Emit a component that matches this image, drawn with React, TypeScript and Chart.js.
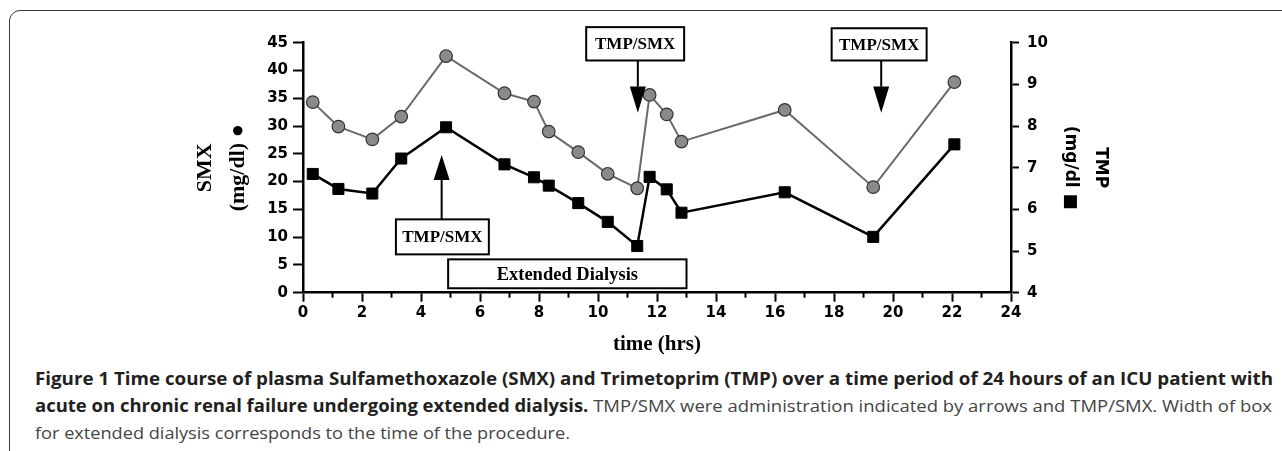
import React, { useEffect, useLayoutEffect, useRef } from "react";
import { Chart, registerables } from "chart.js";

Chart.register(...registerables);

// ---------- data ----------
const timeHours = [0.33, 1.2, 2.35, 3.33, 4.85, 6.83, 7.83, 8.33, 9.33, 10.33, 11.33, 11.75, 12.33, 12.83, 16.33, 19.33, 22.08];
const smxValues = [34.3, 29.9, 27.6, 31.7, 42.6, 35.9, 34.4, 29.0, 25.3, 21.4, 18.8, 35.6, 32.1, 27.2, 32.9, 19.0, 37.9];
const tmpValues = [6.85, 6.49, 6.38, 7.22, 7.97, 7.08, 6.77, 6.57, 6.15, 5.7, 5.12, 6.78, 6.48, 5.92, 6.41, 5.34, 7.56];

const doseTimes = [4.7, 11.35, 19.6];
const doseLabel = "TMP/SMX";
const dialysisStart = 4.92;
const dialysisEnd = 13.0;
const dialysisLabel = "Extended Dialysis";

const xTitle = "time (hrs)";
const leftTitle = ["SMX", "(mg/dl) \u25CF"];
const rightTitle = ["TMP", "(mg/dl \u25A0"];

const captionBold1 =
  "Figure 1 Time course of plasma Sulfamethoxazole (SMX) and Trimetoprim (TMP) over a time period of 24 hours of an ICU patient with";
const captionBold2 = "acute on chronic renal failure undergoing extended dialysis.";
const captionNormal2 = " TMP/SMX were administration indicated by arrows and TMP/SMX. Width of box";
const captionNormal3 = "for extended dialysis corresponds to the time of the procedure.";

// ---------- layout (positions / styles) ----------
const W = 1282;
const H = 362;
const AREA_LEFT = 303;
const AREA_RIGHT = 1011;
const AREA_TOP = 42.7;
const AREA_BOTTOM = 292.7;

// annotation boxes: x in hours, y in SMX-axis units
const doseBoxes = [
  { x0: 3.15, x1: 6.3, yTop: 13.2, yBottom: 6.9, dir: "up", headBase: 20.3, tip: 24.8 },
  { x0: 9.6, x1: 12.92, yTop: 47.8, yBottom: 41.8, dir: "down", headBase: 37.1, tip: 32.4 },
  { x0: 17.92, x1: 21.14, yTop: 47.6, yBottom: 41.8, dir: "down", headBase: 37.1, tip: 32.4 },
];
const dialysisTop = 6.0;
const dialysisBottom = 0.8;

const captionTargets = [1238, 1237, 535];
const captionTops = [364.5, 391.5, 418.5];

const tickFont = { family: '"DejaVu Sans", sans-serif', size: 15, weight: "bold" as const };

function drawBox(ctx: CanvasRenderingContext2D, l: number, t: number, r: number, b: number, text: string, font: string) {
  ctx.fillStyle = "#fff";
  ctx.fillRect(l, t, r - l, b - t);
  ctx.lineWidth = 2;
  ctx.strokeStyle = "#000";
  ctx.strokeRect(l, t, r - l, b - t);
  ctx.fillStyle = "#000";
  ctx.font = font;
  ctx.textAlign = "center";
  ctx.textBaseline = "middle";
  ctx.fillText(text, (l + r) / 2, (t + b) / 2 + 1);
}

const annotationPlugin = {
  id: "figAnnotations",
  afterDatasetsDraw(chart: any) {
    const { ctx, scales, chartArea } = chart;
    const x = scales.x;
    const y = scales.y;
    ctx.save();
    // minor x ticks at odd hours
    ctx.strokeStyle = "#000";
    ctx.lineWidth = 2;
    for (let h = 1; h < 24; h += 2) {
      const px = x.getPixelForValue(h);
      ctx.beginPath();
      ctx.moveTo(px, chartArea.bottom);
      ctx.lineTo(px, chartArea.bottom + 5);
      ctx.stroke();
    }
    // dialysis box
    drawBox(
      ctx,
      x.getPixelForValue(dialysisStart),
      y.getPixelForValue(dialysisTop),
      x.getPixelForValue(dialysisEnd),
      y.getPixelForValue(dialysisBottom),
      dialysisLabel,
      'bold 18.5px "Liberation Serif", serif'
    );
    // dose boxes + arrows
    doseBoxes.forEach((bx, i) => {
      const l = x.getPixelForValue(bx.x0);
      const r = x.getPixelForValue(bx.x1);
      const t = y.getPixelForValue(bx.yTop);
      const b = y.getPixelForValue(bx.yBottom);
      const ax = x.getPixelForValue(doseTimes[i]);
      const base = y.getPixelForValue(bx.headBase);
      const tip = y.getPixelForValue(bx.tip);
      const start = bx.dir === "up" ? t : b;
      ctx.strokeStyle = "#000";
      ctx.lineWidth = 2;
      ctx.beginPath();
      ctx.moveTo(ax, start);
      ctx.lineTo(ax, base);
      ctx.stroke();
      ctx.fillStyle = "#000";
      ctx.beginPath();
      ctx.moveTo(ax - 8, base);
      ctx.lineTo(ax + 8, base);
      ctx.lineTo(ax, tip);
      ctx.closePath();
      ctx.fill();
      drawBox(ctx, l, t, r, b, doseLabel, 'bold 17px "Liberation Serif", serif');
    });
    ctx.restore();
  },
};

export default function App() {
  const canvasRef = useRef<HTMLCanvasElement | null>(null);
  const lineRefs = [useRef<HTMLSpanElement | null>(null), useRef<HTMLSpanElement | null>(null), useRef<HTMLSpanElement | null>(null)];

  useEffect(() => {
    if (!canvasRef.current) return;
    const chart = new Chart(canvasRef.current, {
      type: "line",
      data: {
        datasets: [
          {
            label: "SMX",
            data: timeHours.map((t, i) => ({ x: t, y: smxValues[i] })),
            yAxisID: "y",
            borderColor: "#6a6a6a",
            borderWidth: 2,
            pointRadius: 6.3,
            pointStyle: "circle",
            pointBackgroundColor: "#8a8a8a",
            pointBorderColor: "#333",
            pointBorderWidth: 1.2,
            tension: 0,
          },
          {
            label: "TMP",
            data: timeHours.map((t, i) => ({ x: t, y: tmpValues[i] })),
            yAxisID: "y1",
            borderColor: "#000",
            borderWidth: 2.5,
            pointRadius: 7.8,
            pointStyle: "rect",
            pointBackgroundColor: "#000",
            pointBorderColor: "#000",
            pointBorderWidth: 1,
            tension: 0,
          },
        ],
      },
      options: {
        animation: false,
        responsive: false,
        maintainAspectRatio: false,
        devicePixelRatio: 1,
        layout: { padding: { top: AREA_TOP, left: 0, right: 0, bottom: 0 } },
        plugins: { legend: { display: false }, tooltip: { enabled: false } },
        scales: {
          x: {
            type: "linear",
            min: 0,
            max: 24,
            ticks: { stepSize: 2, color: "#000", font: tickFont, padding: 2, maxRotation: 0, autoSkip: false },
            grid: { drawOnChartArea: false, drawTicks: true, tickLength: 9, tickWidth: 2, tickColor: "#000" },
            border: { color: "#000", width: 2.5 },
            title: {
              display: true,
              text: xTitle,
              color: "#000",
              font: { family: '"Liberation Serif", serif', size: 21, weight: "bold", lineHeight: 1.2 },
              padding: { top: 0, bottom: 4.5 },
            },
            afterFit: (s: any) => {
              s.height = H - AREA_BOTTOM;
            },
          },
          y: {
            type: "linear",
            position: "left",
            min: 0,
            max: 45,
            ticks: { stepSize: 5, color: "#000", font: tickFont, padding: 5 },
            grid: { drawOnChartArea: false, drawTicks: true, tickLength: 10, tickWidth: 2, tickColor: "#000" },
            border: { color: "#000", width: 2.5 },
            title: {
              display: true,
              text: leftTitle,
              color: "#000",
              font: { family: '"Liberation Serif", serif', size: 22, weight: "bold", lineHeight: 33 / 22 },
              padding: { top: 188.5, bottom: 0 },
            },
            afterFit: (s: any) => {
              s.width = AREA_LEFT;
            },
          },
          y1: {
            type: "linear",
            position: "right",
            min: 4,
            max: 10,
            ticks: { stepSize: 1, color: "#000", font: tickFont, padding: 8 },
            grid: { drawOnChartArea: false, drawTicks: true, tickLength: 8, tickWidth: 2, tickColor: "#000" },
            border: { color: "#000", width: 2.5 },
            title: {
              display: true,
              text: rightTitle,
              color: "#000",
              font: { family: '"DejaVu Sans", sans-serif', size: 17, weight: "bold", lineHeight: 30 / 17 },
              padding: { top: 167, bottom: 0 },
            },
            afterFit: (s: any) => {
              s.width = W - AREA_RIGHT;
            },
          },
        },
      } as any,
      plugins: [annotationPlugin],
    });
    return () => chart.destroy();
  }, []);

  useLayoutEffect(() => {
    const fit = () => {
      lineRefs.forEach((ref, i) => {
        const el = ref.current;
        if (!el) return;
        el.style.transform = "none";
        const w = el.getBoundingClientRect().width;
        if (w > 0) el.style.transform = `scaleX(${captionTargets[i] / w})`;
      });
    };
    fit();
    const fonts: any = (document as any).fonts;
    if (fonts && fonts.ready) fonts.ready.then(fit);
  }, []);

  const lineStyle: React.CSSProperties = {
    position: "absolute",
    left: 35,
    display: "inline-block",
    whiteSpace: "nowrap",
    transformOrigin: "left center",
    fontFamily: '"Open Sans", "Noto Sans", sans-serif',
    fontSize: 17,
    lineHeight: "27px",
  };

  return (
    <div
      style={{
        position: "absolute",
        left: 0,
        top: 0,
        width: W,
        height: 451,
        overflow: "hidden",
        background: "#fff",
      }}
    >
      <div
        style={{
          position: "absolute",
          left: 9,
          top: 10,
          width: 1400,
          height: 600,
          border: "1.6px solid #3a3a3a",
          borderTopLeftRadius: 11,
          boxSizing: "border-box",
        }}
      />
      <canvas ref={canvasRef} width={W} height={H} style={{ position: "absolute", left: 0, top: 0 }} />
      <span ref={lineRefs[0]} style={{ ...lineStyle, top: captionTops[0], fontWeight: 700, color: "#231f20" }}>
        {captionBold1}
      </span>
      <span ref={lineRefs[1]} style={{ ...lineStyle, top: captionTops[1] }}>
        <span style={{ fontWeight: 700, color: "#231f20" }}>{captionBold2}</span>
        <span style={{ fontWeight: 400, color: "#444" }}>{captionNormal2}</span>
      </span>
      <span ref={lineRefs[2]} style={{ ...lineStyle, top: captionTops[2], fontWeight: 400, color: "#444" }}>
        {captionNormal3}
      </span>
    </div>
  );
}
